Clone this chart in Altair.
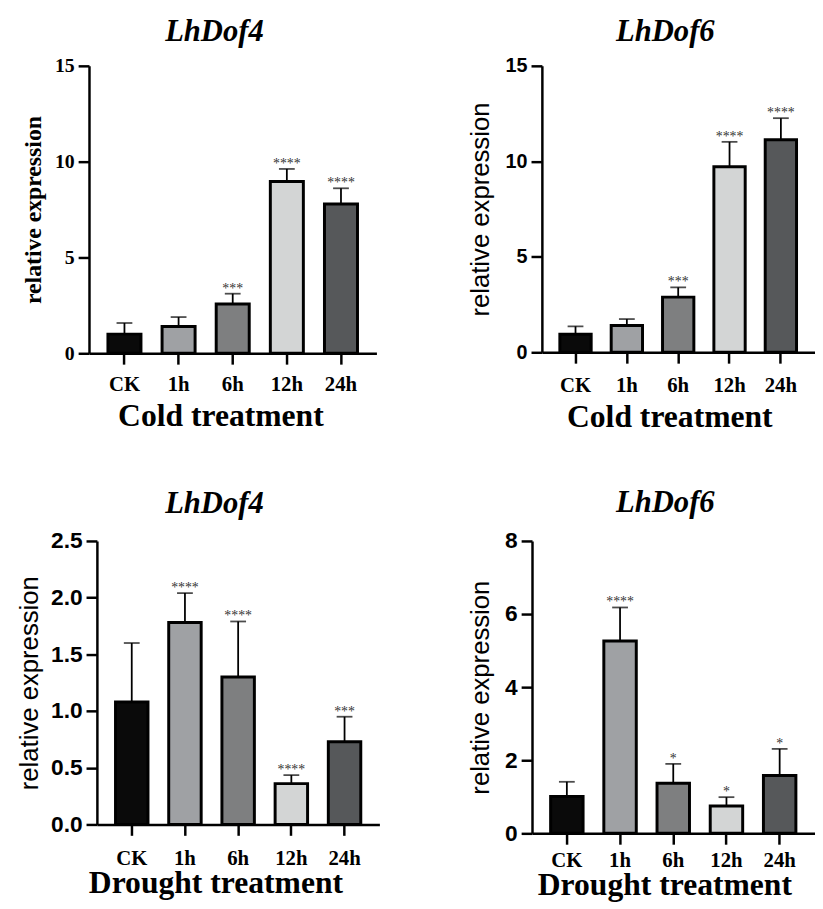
import altair as alt
import pandas as pd

categories = ["CK", "1h", "6h", "12h", "24h"]
bar_colors = ["#0a0a0a", "#9fa1a4", "#7e7f80", "#d3d5d5", "#56585a"]

# Cold treatment, LhDof4
cold_dof4_mean = [1.00, 1.40, 2.57, 8.96, 7.79]
cold_dof4_sd = [0.58, 0.49, 0.54, 0.66, 0.82]
cold_dof4_sig = ["", "", "***", "****", "****"]

# Cold treatment, LhDof6
cold_dof6_mean = [0.95, 1.40, 2.89, 9.72, 11.13]
cold_dof6_sd = [0.41, 0.34, 0.51, 1.30, 1.13]
cold_dof6_sig = ["", "", "***", "****", "****"]

# Drought treatment, LhDof4
drought_dof4_mean = [1.08, 1.78, 1.30, 0.36, 0.73]
drought_dof4_sd = [0.52, 0.26, 0.49, 0.075, 0.22]
drought_dof4_sig = ["", "****", "****", "****", "***"]

# Drought treatment, LhDof6
drought_dof6_mean = [1.01, 5.26, 1.37, 0.75, 1.58]
drought_dof6_sd = [0.40, 0.92, 0.53, 0.24, 0.73]
drought_dof6_sig = ["", "****", "*", "*", "*"]

SERIF = "Liberation Serif, Times New Roman, serif"
SANS = "Liberation Sans, Arial, sans-serif"


def panel(mean, sd, sig, ymax, yvals, yfmt, gene, xtitle, tick_font, tick_size,
          ytitle_font, ytitle_size, ytitle_weight, width, height, ytitle_x,
          xtitle_x, xtitle_y, xlabel_y, title_dx, title_dy, x_shift=0):
    df = pd.DataFrame({"cat": categories, "mean": mean, "sd": sd, "sig": sig})
    df["top"] = df["mean"] + df["sd"]

    xscale_args = dict(domain=categories, paddingInner=0.39, paddingOuter=0.35)
    if x_shift:
        xscale_args["range"] = [-x_shift, width]
    x = alt.X(
        "cat:N", sort=categories,
        scale=alt.Scale(**xscale_args),
        axis=alt.Axis(
            title=xtitle, labelAngle=0, labelFont=SERIF, labelFontSize=21,
            labelFontWeight="bold", labelColor="black", labelBaseline="alphabetic",
            labelPadding=xlabel_y - 11,
            domainColor="black", domainWidth=2.5, tickColor="black", tickWidth=2.5,
            tickSize=11, titleFont=SERIF, titleFontSize=32, titleFontWeight="bold",
            titleColor="black", titleX=xtitle_x, titleY=xtitle_y, titleAlign="center",
            titleBaseline="alphabetic", grid=False,
        ),
    )
    yscale = alt.Scale(domain=[0, ymax], nice=False, zero=True)
    y = alt.Y(
        "mean:Q", scale=yscale,
        axis=alt.Axis(
            title="relative expression", values=yvals, format=yfmt, grid=False,
            labelFont=tick_font, labelFontSize=tick_size, labelFontWeight="bold",
            labelColor="black", labelPadding=4, offset=x_shift,
            domainColor="black", domainWidth=2.5, tickColor="black", tickWidth=2.5,
            tickSize=11, titleFont=ytitle_font, titleFontSize=ytitle_size,
            titleFontWeight=ytitle_weight, titleColor="black", titleX=ytitle_x,
            titleBaseline="alphabetic",
        ),
    )

    base = alt.Chart(df)
    rules = base.mark_rule(color="black", strokeWidth=1.8).encode(
        x=x, y=alt.Y("mean:Q", scale=yscale), y2="top:Q")
    caps = base.mark_tick(color="black", thickness=1.8, size=16).encode(
        x=x, y=alt.Y("top:Q", scale=yscale))
    bars = base.mark_bar(stroke="black", strokeWidth=3).encode(
        x=x, y=y,
        color=alt.Color("cat:N", scale=alt.Scale(domain=categories, range=bar_colors),
                        legend=None),
    )
    stars = base.mark_text(font=SERIF, fontSize=14, color="#333333",
                           baseline="alphabetic", dy=-1).encode(
        x=x, y=alt.Y("top:Q", scale=yscale), text="sig:N")

    return alt.layer(rules, caps, bars, stars).properties(
        width=width, height=height,
        title=alt.TitleParams(
            text=gene, font=SERIF, fontSize=31, fontStyle="italic", fontWeight="bold",
            color="black", anchor="middle", frame="group", dx=title_dx, dy=title_dy,
            baseline="alphabetic", offset=14,
        ),
    )


p1 = panel(cold_dof4_mean, cold_dof4_sd, cold_dof4_sig, 15, [0, 5, 10, 15], "d",
           "LhDof4", "Cold treatment", SERIF, 20, SERIF, 24, "bold",
           283, 291, -49, 125, 73, 38, -22.5, 30, x_shift=8)
p2 = panel(cold_dof6_mean, cold_dof6_sd, cold_dof6_sig, 15, [0, 5, 10, 15], "d",
           "LhDof6", "Cold treatment", SANS, 20, SANS, 26, "normal",
           276, 290, -54.5, 129, 75, 40, -13, 30)
p3 = panel(drought_dof4_mean, drought_dof4_sd, drought_dof4_sig, 2.5,
           [0, 0.5, 1.0, 1.5, 2.0, 2.5], ".1f",
           "LhDof4", "Drought treatment", SANS, 23, SANS, 26, "normal",
           286, 287, -60, 120, 69, 41, -24, 28)
p4 = panel(drought_dof6_mean, drought_dof6_sd, drought_dof6_sig, 8, [0, 2, 4, 6, 8], "d",
           "LhDof6", "Drought treatment", SANS, 23, SANS, 26, "normal",
           286, 296, -44, 134, 62, 34, -8, 27)

chart = alt.concat(
    p1, p2, p3, p4, columns=2,
    align={"row": "all", "column": "none"},
    spacing={"row": 56, "column": 83.5},
).properties(
    padding={"left": 8, "top": 3, "right": 0, "bottom": 0}
).configure(background="white").configure_view(strokeWidth=0, stroke="transparent")

chart.save("out.html", embed_options={"renderer": "svg", "actions": False})
